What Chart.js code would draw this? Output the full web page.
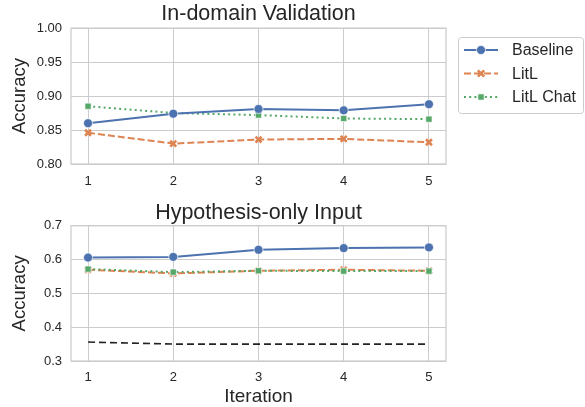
<!DOCTYPE html>
<html>
<head>
<meta charset="utf-8">
<script src="https://cdn.jsdelivr.net/npm/chart.js@4/dist/chart.umd.min.js"></script>
<style>
  body { margin: 0; background: #fff; }
  #wrap { position: relative; width: 585px; height: 407px; }
  canvas { position: absolute; left: 0; }
  #top { top: 0; }
  #bottom { top: 200px; }
</style>
</head>
<body>
<div id="wrap">
  <canvas id="top" width="585" height="200"></canvas>
  <canvas id="bottom" width="585" height="207"></canvas>
</div>
<script>
// données
const iterations = [1, 2, 3, 4, 5];
const xTicks = [1, 2, 3, 4, 5];
const topYTicks = [0.80, 0.85, 0.90, 0.95, 1.00];
const bottomYTicks = [0.3, 0.4, 0.5, 0.6, 0.7];

const inBaseline = [0.860, 0.874, 0.881, 0.879, 0.888];
const inLitL = [0.846, 0.830, 0.836, 0.837, 0.832];
const inLitLChat = [0.885, 0.875, 0.872, 0.867, 0.866];

const hypBaseline = [0.606, 0.608, 0.629, 0.634, 0.636];
const hypLitL = [0.570, 0.559, 0.567, 0.570, 0.567];
const hypLitLChat = [0.572, 0.563, 0.567, 0.566, 0.566];
const hypMajority = [0.356, 0.350, 0.350, 0.350, 0.350];

const seriesNames = ['Baseline', 'LitL', 'LitL Chat'];

const FONT = "'Liberation Sans', Arial, sans-serif";
const TEXT = '#262626';
const GRID = '#cccccc';
const BLUE = '#4c72b0', ORANGE = '#dd8452', GREEN = '#55a868';

function pts(vals) {
  return iterations.map((x, i) => ({ x: x, y: vals[i] }));
}

function serie(label, vals, kind) {
  if (kind === 'base') return {
    label, data: pts(vals), borderColor: BLUE, backgroundColor: BLUE, borderWidth: 2,
    pointStyle: 'circle', pointRadius: 4.5, pointBackgroundColor: BLUE,
    pointBorderColor: '#fff', pointBorderWidth: 0.7, order: 0
  };
  if (kind === 'litl') return {
    label, data: pts(vals), borderColor: ORANGE, backgroundColor: ORANGE, borderWidth: 2,
    borderDash: [7, 3], pointStyle: 'crossRot', pointRadius: 4.2,
    pointBorderColor: ORANGE, pointBorderWidth: 2.6, order: 2
  };
  if (kind === 'chat') return {
    label, data: pts(vals), borderColor: GREEN, backgroundColor: GREEN, borderWidth: 2,
    borderDash: [2, 3.2], pointStyle: 'rect', pointRadius: 4.4, pointBackgroundColor: GREEN,
    pointBorderColor: '#fff', pointBorderWidth: 0.7, order: 1
  };
  return {
    label, data: pts(vals), borderColor: '#222', borderWidth: 1.6, borderDash: [7, 4],
    pointRadius: 0, order: 3
  };
}

// cadre autour de la zone du graphe
const frame = {
  id: 'frame',
  afterDraw(chart) {
    const a = chart.chartArea, c = chart.ctx;
    c.save();
    c.strokeStyle = GRID;
    c.lineWidth = 1.25;
    c.strokeRect(a.left, a.top, a.right - a.left, a.bottom - a.top);
    c.restore();
  }
};

// légende à droite (ligne + marqueur)
const legendBox = {
  id: 'legendBox',
  afterDraw(chart) {
    const c = chart.ctx;
    c.save();
    const x0 = 458, y0 = 37, w = 126, h = 76;
    c.fillStyle = '#fff';
    c.strokeStyle = GRID;
    c.lineWidth = 1;
    c.beginPath();
    c.roundRect(x0 + 0.5, y0 + 0.5, w - 1, h, 3);
    c.fill();
    c.stroke();
    const rows = [50, 73.5, 97];
    chart.data.datasets.slice(0, 3).forEach((ds, i) => {
      const y = rows[i];
      c.strokeStyle = ds.borderColor;
      c.lineWidth = ds.borderWidth;
      c.setLineDash(ds.borderDash || []);
      c.beginPath();
      c.moveTo(464, y);
      c.lineTo(498, y);
      c.stroke();
      c.setLineDash([]);
      c.fillStyle = ds.pointBackgroundColor || ds.borderColor;
      c.strokeStyle = ds.pointBorderColor;
      c.lineWidth = ds.pointBorderWidth;
      c.beginPath();
      if (ds.pointStyle === 'circle') c.arc(481, y, ds.pointRadius, 0, Math.PI * 2);
      else if (ds.pointStyle === 'rect') {
        const s = ds.pointRadius / Math.SQRT2;
        c.rect(481 - s, y - s, 2 * s, 2 * s);
      } else {
        const s = ds.pointRadius * 0.75;
        c.moveTo(481 - s, y - s); c.lineTo(481 + s, y + s);
        c.moveTo(481 + s, y - s); c.lineTo(481 - s, y + s);
      }
      if (ds.pointStyle !== 'crossRot') c.fill();
      c.stroke();
      c.fillStyle = TEXT;
      c.font = '16px ' + FONT;
      c.textBaseline = 'middle';
      c.fillText(ds.label, 512, y + 1);
    });
    c.restore();
  }
};

function options(title, yTicks, titlePad, xHeight, xTitle, tickPad) {
  return {
    responsive: false,
    animation: false,
    layout: { padding: { left: 0, right: 139, top: 0, bottom: 0 } },
    plugins: {
      legend: { display: false },
      tooltip: { enabled: false },
      title: {
        display: true, text: title, fullSize: false, color: TEXT,
        font: { family: FONT, size: 21.5, weight: 'normal', lineHeight: 1.2 },
        padding: titlePad
      }
    },
    scales: {
      x: {
        type: 'linear', min: 0.8, max: 5.2,
        afterBuildTicks: s => { s.ticks = xTicks.map(v => ({ value: v })); },
        afterFit: s => { s.height = xHeight; },
        grid: { color: GRID, lineWidth: 1, drawTicks: false },
        border: { display: false },
        ticks: { color: TEXT, font: { family: FONT, size: 13 }, padding: tickPad, maxRotation: 0 },
        title: {
          display: !!xTitle, text: xTitle, color: TEXT,
          font: { family: FONT, size: 19, lineHeight: 1.1 }, padding: { top: 0, bottom: 0 }
        }
      },
      y: {
        min: yTicks[0], max: yTicks[yTicks.length - 1],
        afterBuildTicks: s => { s.ticks = yTicks.map(v => ({ value: v })); },
        afterFit: s => { s.width = 71; },
        grid: { color: GRID, lineWidth: 1, drawTicks: false },
        border: { display: false },
        ticks: {
          color: TEXT, font: { family: FONT, size: 13 }, padding: 9,
          callback: v => yTicks[0] < 0.5 ? v.toFixed(1) : v.toFixed(2)
        },
        title: {
          display: true, text: 'Accuracy', color: TEXT,
          font: { family: FONT, size: 18.5, lineHeight: 1.2 }, padding: { top: 9, bottom: 0 }
        }
      }
    }
  };
}

new Chart(document.getElementById('top'), {
  type: 'line',
  data: {
    datasets: [
      serie(seriesNames[0], inBaseline, 'base'),
      serie(seriesNames[1], inLitL, 'litl'),
      serie(seriesNames[2], inLitLChat, 'chat')
    ]
  },
  options: options('In-domain Validation', topYTicks, { top: 1, bottom: 1.3 }, 36, '', 10),
  plugins: [frame, legendBox]
});

new Chart(document.getElementById('bottom'), {
  type: 'line',
  data: {
    datasets: [
      serie(seriesNames[0], hypBaseline, 'base'),
      serie(seriesNames[1], hypLitL, 'litl'),
      serie(seriesNames[2], hypLitLChat, 'chat'),
      serie('Majority', hypMajority, 'black')
    ]
  },
  options: options('Hypothesis-only Input', bottomYTicks, { top: 0, bottom: 0 }, 46, 'Iteration', 9),
  plugins: [frame]
});
</script>
</body>
</html>
